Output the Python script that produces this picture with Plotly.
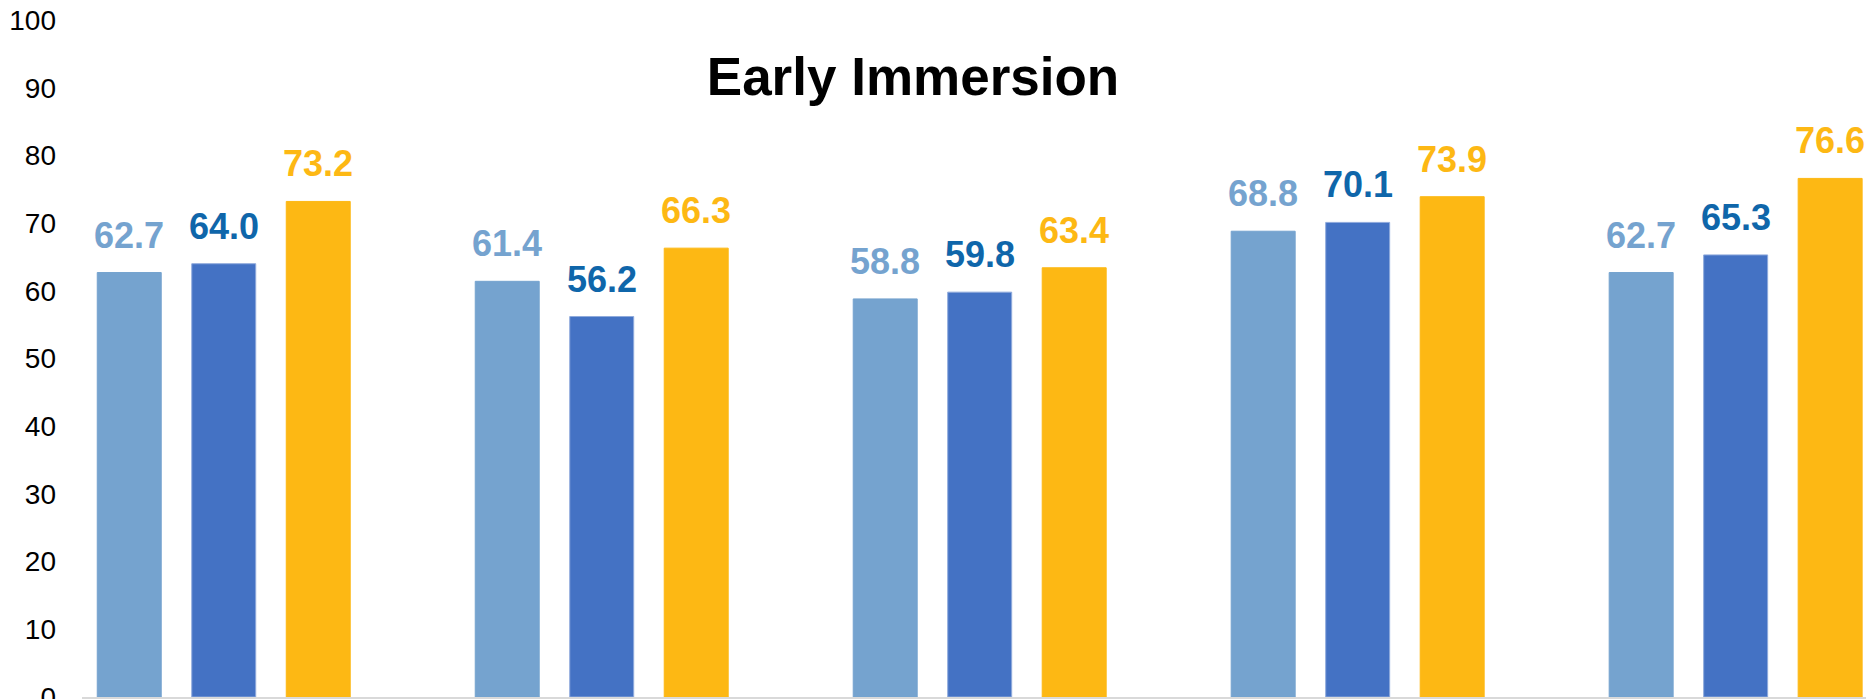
import plotly.graph_objects as go

categories = ["Group 1", "Group 2", "Group 3", "Group 4", "Group 5"]
series_a = [62.7, 61.4, 58.8, 68.8, 62.7]
series_b = [64.0, 56.2, 59.8, 70.1, 65.3]
series_c = [73.2, 66.3, 63.4, 73.9, 76.6]
series_names = ["Series A", "Series B", "Series C"]
y_ticks = [0, 10, 20, 30, 40, 50, 60, 70, 80, 90, 100]

bar_colors = ["#75A3CF", "#4472C4", "#FDB814"]
label_colors = ["#75A3CF", "#0F66AA", "#FDB814"]
line_colors = ["#75A3CF", "#8FAADC", "#FDB814"]

FONT = "Liberation Sans, Arial, sans-serif"

# page body has an 8px default margin; figure sized to fill the rest
W, H = 1866, 691
ML, MR = 74, 0
X_RANGE = [-0.375, 4.366]
BARGAP = 0.25

fig = go.Figure()
for name, vals, bc, oc in zip(series_names, [series_a, series_b, series_c],
                              bar_colors, line_colors):
    fig.add_trace(go.Bar(
        x=categories, y=vals, name=name,
        marker=dict(color=bc, line=dict(color=oc, width=1)),
        cliponaxis=False,
    ))

# value labels above each bar
cat_px = (W - ML - MR) / (X_RANGE[1] - X_RANGE[0])
slot_px = cat_px * (1 - BARGAP) / len(series_names)
annotations = []
for i, (vals, lc) in enumerate(zip([series_a, series_b, series_c], label_colors)):
    for cat, v in zip(categories, vals):
        annotations.append(dict(
            x=cat, y=v, xref="x", yref="y", text=f"<b>{v:.1f}</b>",
            showarrow=False, xanchor="center", yanchor="bottom",
            xshift=(i - 1) * slot_px, yshift=15,
            font=dict(family=FONT, size=36, color=lc),
        ))

fig.update_layout(
    width=W, height=H,
    margin=dict(l=ML, r=MR, t=11.5, b=2, pad=0),
    paper_bgcolor="white", plot_bgcolor="white",
    barmode="group", bargap=BARGAP, bargroupgap=0.323,
    showlegend=False,
    annotations=annotations,
    title=dict(text="<b>Early Immersion</b>", x=905/W, xanchor="center",
               y=1 - 68.5/H, yanchor="middle", yref="container",
               font=dict(family=FONT, size=53, color="black")),
    xaxis=dict(type="category", categoryorder="array", categoryarray=categories,
               range=X_RANGE, showticklabels=False, ticks="",
               showline=True, linecolor="#D9D9D9", linewidth=2,
               showgrid=False, zeroline=False, automargin=False),
    yaxis=dict(range=[0, 100], tickvals=y_ticks, showgrid=False, zeroline=False,
               showline=False, ticks="", ticklabelstandoff=25, automargin=False,
               ticklabeloverflow="allow",
               tickfont=dict(family=FONT, size=28, color="black")),
)

fig.write_html("out.html")
